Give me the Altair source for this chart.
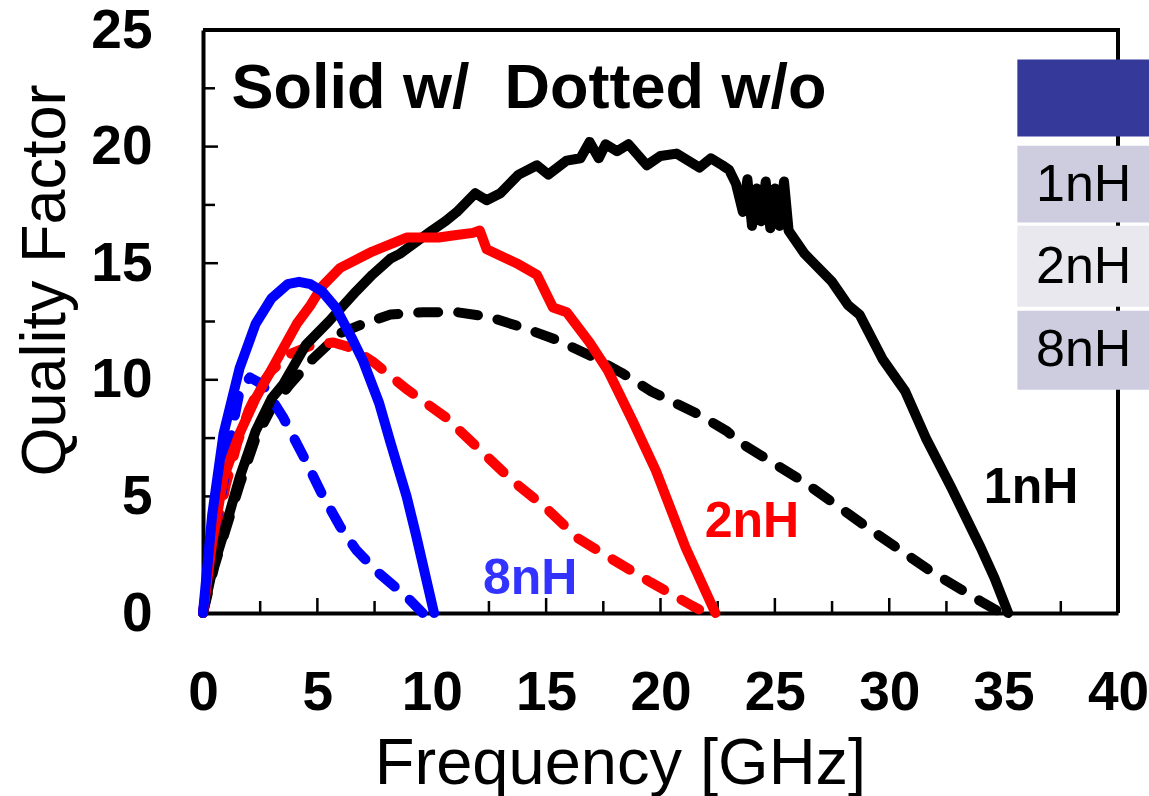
import altair as alt
import pandas as pd

# ---- data ----
f_1nH_w = [0, 0.4, 0.9, 1.6, 2.3, 3.0, 3.5, 4.5, 5.5, 6.7, 7.4, 8.2, 8.6, 9.3, 10.0, 10.6, 11.1, 11.9, 12.4, 13.0,
           13.8, 14.6, 15.1, 15.9, 16.5, 16.9, 17.3, 17.6, 18.1, 18.6, 19.4, 20.0, 20.7, 21.2, 21.7, 22.2, 22.7,
           23.0, 23.3, 23.6, 23.8, 24.0, 24.2, 24.4, 24.6, 24.8, 25.0, 25.2, 25.4, 25.6, 26.3, 27.2, 27.5, 28.2,
           28.7, 29.7, 30.7, 31.6, 32.7, 34.0, 34.6, 35.2]
q_1nH_w = [0, 1.8, 3.4, 5.8, 7.8, 9.2, 9.8, 11.5, 12.5, 13.8, 14.5, 15.2, 15.4, 15.9, 16.4, 16.8, 17.2, 18.0, 17.7, 18.0,
           18.8, 19.2, 18.8, 19.4, 19.5, 20.2, 19.5, 20.1, 19.8, 20.1, 19.2, 19.6, 19.7, 19.4, 19.1, 19.5, 19.2,
           19.0, 18.4, 17.2, 18.6, 16.6, 18.2, 16.8, 18.5, 16.5, 18.2, 16.6, 18.5, 16.4, 15.4, 14.5, 14.2, 13.2,
           12.8, 10.9, 9.5, 7.5, 5.4, 2.8, 1.5, 0]

f_1nH_wo = [0, 0.5, 1.0, 1.6, 2.3, 3.0, 3.8, 4.8, 6.0, 7.0, 8.2, 9.6, 11.1, 12.5, 14.1, 15.5, 17.0, 18.3, 19.6,
            21.7, 22.9, 23.5, 26.3, 29.0, 31.8, 34.0, 34.9]
q_1nH_wo = [0, 2.0, 3.6, 5.5, 7.5, 8.8, 9.8, 10.9, 12.0, 12.4, 12.8, 12.9, 12.9, 12.7, 12.2, 11.7, 11.0, 10.3, 9.5,
            8.5, 7.8, 7.3, 5.6, 3.7, 1.8, 0.5, 0]

f_2nH_w = [0, 0.4, 0.9, 1.6, 2.3, 3.2, 4.1, 4.7, 5.2, 6.0, 7.4, 8.9, 10.3, 11.0, 11.8, 12.1, 12.4, 13.7, 14.6,
           15.3, 15.9, 16.9, 17.7, 18.2, 18.8, 19.8, 21.1, 22.4]
q_2nH_w = [0, 3.0, 5.8, 7.7, 9.2, 10.8, 12.4, 13.2, 14.0, 14.8, 15.5, 16.1, 16.1, 16.2, 16.3, 16.4, 15.6, 15.0, 14.5,
           13.1, 12.9, 11.6, 10.4, 9.4, 8.2, 6.1, 2.8, 0]

f_2nH_wo = [0, 0.5, 1.0, 1.5, 2.0, 2.5, 3.0, 3.8, 4.8, 5.7, 6.4, 7.4, 8.9, 10.6, 12.1, 13.5, 15.0, 16.4, 17.9,
            19.6, 21.4, 22.0]
q_2nH_wo = [0, 3.0, 5.5, 7.3, 8.7, 9.7, 10.4, 11.1, 11.5, 11.6, 11.4, 10.8, 9.6, 8.4, 7.0, 5.7, 4.5, 3.2, 2.3,
            1.3, 0.3, 0]

f_8nH_w = [0, 0.4, 0.9, 1.6, 2.3, 3.0, 3.7, 4.2, 4.7, 5.2, 5.8, 6.5, 7.0, 7.7, 8.2, 8.9, 9.3, 10.1]
q_8nH_w = [0, 4.2, 7.7, 10.5, 12.4, 13.5, 14.1, 14.2, 14.1, 13.8, 13.1, 11.8, 10.8, 9.0, 7.3, 5.0, 3.4, 0]

f_8nH_wo = [0, 0.5, 0.9, 1.3, 1.6, 2.05, 2.6, 3.5, 4.4, 5.2, 6.0, 6.7, 7.7, 8.9, 9.6]
q_8nH_wo = [0, 3.5, 5.6, 8.0, 9.5, 10.1, 9.8, 8.4, 6.7, 5.1, 3.7, 2.7, 1.7, 0.7, 0]

x_ticks = [0, 5, 10, 15, 20, 25, 30, 35, 40]
y_ticks = [0, 5, 10, 15, 20, 25]
x_minor = [2.5, 5, 7.5, 10, 12.5, 15, 17.5, 20, 22.5, 25, 27.5, 30, 32.5, 35, 37.5]
y_minor = [2.5, 5, 7.5, 10, 12.5, 15, 17.5, 20, 22.5]

series_names = ["1nH", "2nH", "8nH"]
series_colors = ["#000000", "#ff0000", "#0000ff"]
table_labels = ["1nH", "2nH", "8nH"]


def frame(name, f, q, cond):
    return pd.DataFrame({"f": f, "q": q, "series": name, "cond": cond, "i": range(len(f))})


solid = pd.concat([frame("1nH", f_1nH_w, q_1nH_w, "w"),
                   frame("2nH", f_2nH_w, q_2nH_w, "w"),
                   frame("8nH", f_8nH_w, q_8nH_w, "w")])
dotted = pd.concat([frame("1nH", f_1nH_wo, q_1nH_wo, "wo"),
                    frame("2nH", f_2nH_wo, q_2nH_wo, "wo"),
                    frame("8nH", f_8nH_wo, q_8nH_wo, "wo")])

W, H = 915, 583
FONT = "Liberation Sans, Arial, Helvetica"

xs = alt.Scale(domain=[0, 40], nice=False, zero=False)
ys = alt.Scale(domain=[0, 25], nice=False, zero=False)
cs = alt.Scale(domain=series_names, range=series_colors)

x_enc = alt.X("f:Q", scale=xs, axis=alt.Axis(
    values=x_ticks, title="Frequency [GHz]", grid=False, ticks=False, tickSize=0,
    labelFont=FONT, labelFontSize=55, labelFontWeight="bold", labelColor="black",
    labelBaseline="alphabetic", labelPadding=96, labelFlush=False,
    domainColor="black", domainWidth=4,
    titleFont=FONT, titleFontSize=65, titleFontWeight="normal", titleColor="black",
    titleX=417, titleY=170, titleBaseline="alphabetic", titleAlign="center"))
y_enc = alt.Y("q:Q", scale=ys, axis=alt.Axis(
    values=y_ticks, title="Quality Factor", grid=False, ticks=False, tickSize=0,
    labelFont=FONT, labelFontSize=55, labelFontWeight="bold", labelColor="black",
    labelBaseline="middle", labelPadding=51, labelFlush=False, labelAlign="right",
    domainColor="black", domainWidth=4,
    titleFont=FONT, titleFontSize=63, titleFontWeight="normal", titleColor="black",
    titleX=-139, titleY=250, titleAngle=-90, titleBaseline="alphabetic", titleAlign="center"))

LW = 10
solid_lines = alt.Chart(solid).mark_line(strokeWidth=LW, strokeCap="round", strokeJoin="round").encode(
    x=x_enc, y=y_enc, color=alt.Color("series:N", scale=cs, legend=None),
    detail="series:N", order="i:Q")
dotted_lines = alt.Chart(dotted).mark_line(strokeWidth=LW, strokeCap="round", strokeJoin="round",
                                           strokeDash=[20, 20]).encode(
    x=alt.X("f:Q", scale=xs), y=alt.Y("q:Q", scale=ys),
    color=alt.Color("series:N", scale=cs, legend=None),
    detail="series:N", order="i:Q")

# inward tick marks
xt = pd.DataFrame({"f": x_minor, "major": [v % 5 == 0 for v in x_minor]})
yt = pd.DataFrame({"q": y_minor, "major": [v % 5 == 0 for v in y_minor]})
x_ticks_major = alt.Chart(xt).transform_filter("datum.major").mark_rule(color="black", strokeWidth=2.5).encode(
    x=alt.X("f:Q", scale=xs), y=alt.value(H), y2=alt.value(H - 15))
x_ticks_minor = alt.Chart(xt).transform_filter("!datum.major").mark_rule(color="black", strokeWidth=2.5).encode(
    x=alt.X("f:Q", scale=xs), y=alt.value(H), y2=alt.value(H - 12))
y_ticks_major = alt.Chart(yt).transform_filter("datum.major").mark_rule(color="black", strokeWidth=2.5).encode(
    y=alt.Y("q:Q", scale=ys), x=alt.value(0), x2=alt.value(15))
y_ticks_minor = alt.Chart(yt).transform_filter("!datum.major").mark_rule(color="black", strokeWidth=2.5).encode(
    y=alt.Y("q:Q", scale=ys), x=alt.value(0), x2=alt.value(12))

# top and right frame lines
top_border = alt.Chart(pd.DataFrame({"k": [0]})).mark_rule(color="black", strokeWidth=4).encode(
    x=alt.value(0), x2=alt.value(W + 2), y=alt.value(0))
right_border = alt.Chart(pd.DataFrame({"k": [0]})).mark_rule(color="black", strokeWidth=4).encode(
    x=alt.value(W), y=alt.value(-2), y2=alt.value(H))

# legend-like table at top right
tbl = pd.DataFrame({
    "x1": [35.6, 35.6, 35.6, 35.6], "x2": [41.5, 41.5, 41.5, 41.5],
    "y1": [23.73, 20.04, 16.61, 12.96], "y2": [20.43, 16.74, 13.13, 9.57],
    "fill": ["#353a9a", "#cecde0", "#e8e8ee", "#cecde0"]})
table_rects = alt.Chart(tbl).mark_rect(clip=False).encode(
    x=alt.X("x1:Q", scale=xs), x2="x2:Q", y=alt.Y("y1:Q", scale=ys), y2="y2:Q",
    fill=alt.Fill("fill:N", scale=None))
tbl_txt = pd.DataFrame({"x": [38.5, 38.5, 38.5], "y": [18.37, 14.85, 11.27], "t": table_labels})
table_text = alt.Chart(tbl_txt).mark_text(font=FONT, fontSize=52, color="black", align="center",
                                          baseline="middle", clip=False).encode(
    x=alt.X("x:Q", scale=xs), y=alt.Y("y:Q", scale=ys), text="t:N")

# annotations
ann = pd.DataFrame({"x": [36.2, 24.0, 14.3], "y": [5.35, 3.9, 1.45], "t": ["1nH", "2nH", "8nH"],
                    "c": ["#000000", "#ff0000", "#3333ff"]})
ann_text = alt.Chart(ann).mark_text(font=FONT, fontSize=50, fontWeight="bold", align="center",
                                    baseline="middle").encode(
    x=alt.X("x:Q", scale=xs), y=alt.Y("y:Q", scale=ys), text="t:N", color=alt.Color("c:N", scale=None))
hdr = pd.DataFrame({"x": [1.25], "y": [22.45], "t": ["Solid w/\u00a0 Dotted w/o"]})
hdr_text = alt.Chart(hdr).mark_text(font=FONT, fontSize=63, fontWeight="bold", align="left",
                                    baseline="middle", color="black").encode(
    x=alt.X("x:Q", scale=xs), y=alt.Y("y:Q", scale=ys), text="t:N")

chart = alt.layer(
    x_ticks_major, x_ticks_minor, y_ticks_major, y_ticks_minor, top_border, right_border,
    dotted_lines, solid_lines, hdr_text, ann_text, table_rects, table_text
).properties(
    width=W, height=H, autosize=alt.AutoSizeParams(type="none"),
    padding={"left": 203, "top": 30, "right": 31, "bottom": 183}
).configure_view(stroke=None).configure(background="white")

chart.save("out.html", embed_options={"renderer": "svg", "actions": False})
